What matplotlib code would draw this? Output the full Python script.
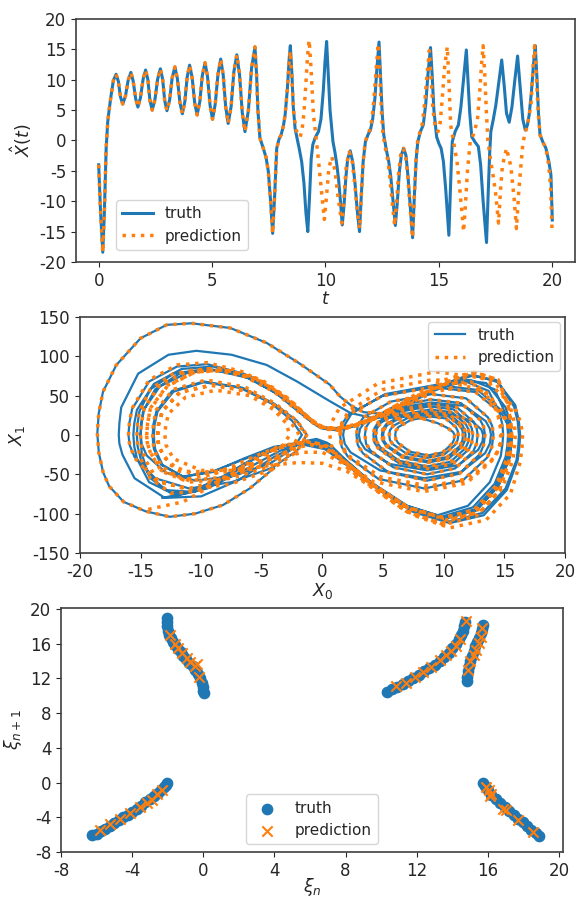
import numpy as np
import matplotlib
matplotlib.use("Agg")
import matplotlib.pyplot as plt

# ---------------- data: time series (t, value) ----------------
shared_series = [
    (0.00, -4.0), (0.08, -11.5), (0.18, -18.4), (0.25, -12.0), (0.33, -1.3), (0.40, 3.1),
    (0.47, 5.3), (0.55, 7.5), (0.65, 9.9), (0.77, 10.9),
    (0.87, 9.7), (0.96, 7.2), (1.06, 6.0), (1.18, 7.3), (1.30, 9.9), (1.42, 11.2),
    (1.52, 9.8), (1.63, 6.9), (1.73, 5.5), (1.84, 7.0), (1.96, 10.1), (2.07, 11.6),
    (2.17, 10.0), (2.26, 6.6), (2.36, 5.0), (2.48, 6.7), (2.60, 10.1), (2.72, 11.8),
    (2.82, 10.1), (2.91, 6.6), (3.01, 4.9), (3.13, 6.7), (3.24, 10.3), (3.36, 12.1),
    (3.47, 10.2), (3.58, 6.3), (3.69, 4.4), (3.80, 6.4), (3.90, 10.4), (4.01, 12.4),
    (4.12, 10.4), (4.23, 6.3), (4.34, 4.2), (4.46, 6.4), (4.57, 10.7), (4.69, 12.8),
    (4.80, 10.5), (4.91, 5.8), (5.02, 3.5), (5.14, 6.0), (5.26, 10.9), (5.38, 13.4),
    (5.49, 10.8), (5.60, 5.5), (5.71, 2.8), (5.84, 5.6), (5.96, 11.3), (6.09, 14.1),
    (6.21, 10.9), (6.33, 4.6), (6.45, 1.45), (6.60, 4.9), (6.74, 11.9), (6.89, 15.4),
    (6.96, 11.0), (7.02, 5.0), (7.11, 0.4), (7.25, -1.2), (7.38, -2.8), (7.48, -5.1),
    (7.58, -10.0), (7.67, -15.3), (7.76, -9.0), (7.85, -1.3), (7.95, 0.2), (8.04, 0.9),
    (8.14, 2.3), (8.22, 4.2),
]
truth_tail = [
    (8.32, 8.5), (8.40, 13.5), (8.45, 15.6), (8.52, 11.0), (8.58, 5.5), (8.66, 2.0),
    (8.75, 0.3), (8.84, -1.3), (8.95, -3.5), (9.05, -7.0), (9.14, -12.0), (9.22, -15.0),
    (9.30, -9.0), (9.37, -3.0), (9.44, -0.7), (9.55, 0.5), (9.69, 1.45), (9.80, 3.5),
    (9.90, 8.0), (9.98, 13.0), (10.05, 16.3), (10.12, 11.0), (10.20, 5.0), (10.33, -0.2),
    (10.42, -2.0), (10.50, -4.0), (10.58, -6.5), (10.66, -10.0), (10.74, -13.9),
    (10.82, -10.5), (10.90, -6.0), (10.98, -3.0), (11.09, -1.7), (11.20, -3.5),
    (11.30, -7.0), (11.40, -11.5), (11.50, -15.0), (11.58, -9.0), (11.66, -3.5),
    (11.76, -0.2), (11.88, 1.0), (11.98, 1.7), (12.08, 3.5), (12.18, 7.0), (12.27, 12.0),
    (12.36, 16.2), (12.43, 10.5), (12.50, 4.5), (12.57, 0.9), (12.68, -1.5), (12.79, -3.5),
    (12.88, -6.0), (12.98, -10.0), (13.08, -14.0), (13.17, -10.0), (13.26, -5.0),
    (13.35, -2.3), (13.45, -1.3), (13.55, -2.5), (13.64, -6.0), (13.74, -11.0),
    (13.84, -16.0), (13.92, -9.0), (14.00, -3.0), (14.07, -0.2), (14.19, 1.5),
    (14.31, 2.55), (14.42, 6.0), (14.52, 11.0), (14.63, 15.3), (14.70, 11.0), (14.78, 5.0),
    (14.90, 0.6), (15.00, -0.5), (15.10, -1.3), (15.20, -3.5), (15.30, -8.0),
    (15.44, -15.6), (15.50, -9.0), (15.55, -3.5), (15.59, -0.2), (15.72, 1.5),
    (15.86, 2.55), (15.97, 5.5), (16.10, 10.5), (16.21, 14.9), (16.28, 10.0),
    (16.36, 4.5), (16.45, 0.6), (16.60, -0.3), (16.74, -1.0), (16.84, -4.0),
    (16.95, -10.0), (17.10, -16.8), (17.18, -8.0), (17.24, -2.0), (17.29, 1.45),
    (17.40, 3.5), (17.51, 5.8), (17.64, 9.5), (17.77, 13.25), (17.88, 9.0), (17.98, 4.5),
    (18.10, 3.0), (18.22, 5.5), (18.35, 10.0), (18.47, 13.9), (18.58, 9.0), (18.70, 3.5),
    (18.81, 1.7), (18.90, 2.5), (18.98, 4.2), (19.08, 8.0), (19.17, 12.5), (19.25, 15.6),
    (19.32, 10.5), (19.39, 4.5), (19.46, 0.9), (19.59, -0.3), (19.72, -1.3),
    (19.85, -3.5), (19.94, -5.7), (20.00, -13.1),
]
pred_tail = [
    (8.32, 8.5), (8.39, 12.5), (8.44, 14.7), (8.52, 10.0), (8.60, 4.5), (8.70, 1.8),
    (8.80, 0.8), (8.88, 0.6), (8.96, 1.5), (9.05, 4.5), (9.13, 9.0), (9.21, 14.0),
    (9.28, 16.5), (9.36, 12.0), (9.47, 4.2), (9.60, 0.0), (9.71, -4.0), (9.84, -9.0),
    (9.95, -13.0), (10.05, -9.0), (10.15, -4.5), (10.28, -2.7), (10.42, -5.0),
    (10.56, -9.5), (10.72, -13.6), (10.82, -9.0), (10.92, -4.0), (11.05, -1.9),
    (11.18, -3.5), (11.30, -7.5), (11.40, -11.5), (11.50, -14.5), (11.58, -9.0),
    (11.66, -3.5), (11.74, -0.5), (11.85, 1.0), (11.95, 1.7), (12.05, 3.5), (12.14, 7.0),
    (12.24, 12.0), (12.33, 15.9), (12.40, 10.5), (12.47, 4.5), (12.54, 0.9),
    (12.65, -1.5), (12.76, -3.5), (12.86, -7.0), (12.95, -10.5), (13.05, -14.0),
    (13.14, -10.0), (13.23, -5.0), (13.33, -2.0), (13.43, -1.3), (13.53, -2.5),
    (13.63, -6.0), (13.73, -11.0), (13.84, -16.0), (13.92, -9.0), (13.99, -3.0),
    (14.06, -0.2), (14.17, 1.5), (14.27, 2.8), (14.37, 6.0), (14.47, 10.5), (14.58, 14.8),
    (14.66, 10.0), (14.74, 5.0), (14.85, 2.0), (14.96, 1.45), (15.06, 3.0), (15.15, 7.0),
    (15.25, 12.0), (15.37, 15.4), (15.45, 9.0), (15.52, 2.5), (15.67, -0.7),
    (15.80, -3.5), (15.92, -8.0), (16.02, -12.0), (16.09, -15.0), (16.18, -10.0),
    (16.26, -5.0), (16.38, -0.2), (16.55, 1.2), (16.70, 3.5), (16.80, 8.0),
    (16.88, 12.5), (16.95, 15.6), (17.02, 11.0), (17.09, 5.0), (17.16, 0.0),
    (17.29, -3.5), (17.40, -6.0), (17.51, -9.0), (17.63, -13.6), (17.72, -8.0),
    (17.80, -4.2), (17.98, -1.3), (18.17, -4.2), (18.32, -9.7), (18.42, -14.5),
    (18.52, -8.5), (18.62, -4.0), (18.71, -0.2), (18.90, 2.5), (19.06, 5.9),
    (19.16, 12.5), (19.22, 15.6), (19.30, 10.5), (19.38, 4.5), (19.46, 0.9),
    (19.59, -0.3), (19.72, -1.3), (19.84, -4.0), (19.93, -8.0), (19.99, -15.0),
]

# ---------------- data: phase portrait (X0, X1) ----------------
phase_transient = [
    (-4.0, -42), (-6.0, -68), (-8.2, -89), (-10.5, -100), (-12.6, -104), (-14.6, -97),
    (-16.4, -85), (-17.6, -65), (-18.1, -47), (-18.45, -22), (-18.57, 2), (-18.45, 28),
    (-18.1, 55), (-17.0, 89), (-15.0, 123), (-12.85, 140), (-10.8, 142), (-7.6, 136),
    (-4.6, 117), (-1.9, 91), (0.6, 64), (1.44, 49), (2.4, 37), (3.4, 29), (4.8, 27),
    (6.5, 26), (8.0, 22), (9.5, 15), (10.3, 9), (10.75, 4), (10.9, 0),
]
phase_right_spiral = [
    (10.85, -5.7), (10.70, -10.9), (9.92, -22.1), (8.70, -26), (7.23, -21.3), (6.25, -10.4), (6.05, -5.7), (6.0, 0),
    (6.05, 5.3), (6.26, 10.1), (7.30, 19.2), (8.86, 23.5), (10.16, 21.1), (10.99, 10.1), (11.15, 5.3), (11.2, 0),
    (11.14, -6.4), (10.97, -12.2), (10.06, -24.7), (8.64, -29), (6.93, -23.8), (5.79, -11.6), (5.56, -6.4), (5.5, 0),
    (5.56, 5.9), (5.81, 11.3), (7.03, 21.6), (8.86, 26.5), (10.38, 23.8), (11.36, 11.3), (11.54, 5.9), (11.6, 0),
    (11.53, -7.3), (11.34, -13.9), (10.28, -28.1), (8.63, -33), (6.65, -27.1), (5.33, -13.2), (5.07, -7.3), (5.0, 0),
    (5.07, 6.6), (5.34, 12.6), (6.70, 24), (8.74, 29.4), (10.44, 26.4), (11.53, 12.6), (11.73, 6.6), (11.8, 0),
    (11.73, -7.7), (11.52, -14.7), (10.42, -29.8), (8.70, -35), (6.63, -28.7), (5.25, -14), (4.97, -7.7), (4.9, 0),
    (4.97, 7.3), (5.26, 13.9), (6.70, 26.4), (8.86, 32.3), (10.66, 29), (11.81, 13.9), (12.03, 7.3), (12.1, 0),
    (12.02, -8.8), (11.79, -16.8), (10.56, -34), (8.64, -40), (6.33, -32.8), (4.79, -16), (4.48, -8.8), (4.4, 0),
    (4.48, 8.1), (4.80, 15.5), (6.40, 29.6), (8.80, 36.3), (10.80, 32.6), (12.08, 15.5), (12.32, 8.1), (12.4, 0),
    (12.32, -9.5), (12.07, -18.1), (10.76, -36.6), (8.71, -43), (6.25, -35.3), (4.61, -17.2), (4.28, -9.5), (4.2, 0),
    (4.29, 8.8), (4.63, 16.8), (6.35, 32), (8.93, 39.2), (11.08, 35.2), (12.46, 16.8), (12.71, 8.8), (12.8, 0),
    (12.71, -11), (12.43, -21), (10.94, -42.5), (8.62, -50), (5.83, -41), (3.97, -20), (3.59, -11), (3.5, 0),
    (3.60, 10.1), (4.0, 19.3), (5.98, 36.8), (8.95, 45.1), (11.42, 40.5), (13.0, 19.3), (13.3, 10.1), (13.4, 0),
    (13.29, -12.8), (12.98, -24.4), (11.28, -49.3), (8.63, -58), (5.45, -47.6), (3.33, -23.2), (2.91, -12.8), (2.8, 0),
    (2.91, 11.7), (3.37, 22.3), (5.63, 42.4), (9.02, 51.9), (11.84, 46.6), (13.65, 22.3), (13.99, 11.7), (14.1, 0),
    (13.97, -15), (13.59, -28.6), (11.57, -57.8), (8.41, -68), (4.61, -55.8), (2.08, -27.2), (1.58, -15), (1.45, 0),
    (1.59, 13.6), (2.15, 26), (4.94, 49.6), (9.12, 60.8), (12.61, 54.6), (14.84, 26), (15.26, 13.6), (15.4, 0),
    (15.36, -14), (15.2, -30), (14.3, -65), (12.5, -95), (10.0, -105), (7.0, -92), (4.0, -62),
    (1.8, -33), (0.4, -15), (-1.2, -8), (-2.8, -12), (-5.1, -25), (-8.0, -55),
    (-10.5, -72), (-12.5, -74), (-14.2, -55), (-15.0, -30), (-15.25, -14), (-15.3, 0),
    (-15.25, 14), (-15.1, 30), (-14.2, 58), (-12.3, 78), (-9.5, 84), (-6.5, 75), (-4.0, 55),
    (-2.0, 30), (-0.5, 12), (0.9, 8), (2.5, 12), (4.2, 20), (6.5, 35),
]
truth_phase_tail = [
    (9.0, 55), (11.5, 70), (13.5, 66), (15.1, 35), (15.5, 16), (15.6, 0),
    (15.55, -14), (15.4, -30), (14.5, -65), (12.7, -96), (10.0, -107), (7.0, -93), (4.0, -63),
    (1.6, -33), (0.2, -15), (-1.3, -9), (-3.0, -13), (-5.5, -28), (-8.5, -57),
    (-11.0, -72), (-13.0, -70), (-14.4, -48), (-14.9, -24), (-14.98, -11), (-15.0, 0),
    (-14.95, 14), (-14.8, 30), (-13.8, 58), (-11.8, 78), (-9.0, 83), (-6.0, 72), (-3.5, 50),
    (-1.5, 25), (-0.3, 10), (1.0, 7), (2.5, 11), (4.5, 22), (7.0, 40), (9.5, 62),
    (12.0, 76), (14.3, 70), (15.9, 38), (16.2, 17), (16.3, 0),
    (16.24, -15), (16.1, -32), (15.2, -70), (13.3, -102), (10.5, -112), (7.5, -98), (4.5, -68),
    (2.0, -38), (0.2, -18), (-2.0, -11), (-4.0, -15), (-6.5, -30), (-9.0, -47),
    (-11.5, -53), (-13.2, -38), (-13.8, -18), (-13.88, -8), (-13.9, 0),
    (-13.85, 13), (-13.6, 30), (-12.3, 55), (-9.8, 67), (-6.8, 60), (-4.2, 40), (-2.5, 18), (-1.7, 0),
    (-2.4, -17), (-4.3, -36), (-7.3, -52), (-10.5, -58), (-12.9, -48), (-14.5, -26),
    (-14.9, -12), (-15.0, 0),
    (-14.93, 15), (-14.7, 33), (-13.4, 62), (-11.0, 80), (-8.5, 83), (-5.5, 70), (-3.0, 45),
    (-1.2, 20), (0.0, 8), (1.2, 6), (2.8, 12), (5.0, 25), (7.5, 45), (10.0, 64),
    (12.5, 76), (14.5, 67), (15.8, 36), (16.1, 17), (16.2, 0),
    (16.14, -15), (16.0, -32), (15.1, -68), (13.2, -99), (10.5, -110), (7.5, -96), (4.5, -66),
    (2.0, -36), (0.3, -17), (-1.5, -10), (-3.5, -14), (-6.0, -28), (-9.0, -46),
    (-11.5, -53), (-13.3, -38), (-13.9, -18), (-13.98, -8), (-14.0, 0),
    (-13.95, 13), (-13.7, 30), (-12.4, 56), (-9.8, 68), (-6.6, 60), (-4.0, 40), (-2.1, 18), (-1.3, 0),
    (-2.1, -20), (-4.2, -42), (-7.5, -60), (-11.0, -68), (-13.8, -55), (-15.5, -28),
    (-15.9, -13), (-16.0, 0),
    (-15.93, 15), (-15.7, 33), (-14.3, 68), (-12.0, 87), (-9.5, 90), (-6.5, 78), (-3.8, 55),
    (-1.5, 25), (-0.2, 10), (1.2, 7), (2.6, 12), (4.8, 25), (7.2, 45), (9.8, 62),
    (12.2, 70), (14.2, 58), (15.0, 30), (15.24, 14), (15.3, 0),
    (15.25, -13), (15.1, -28), (14.2, -62), (12.4, -92), (9.8, -104), (7.0, -90), (4.0, -60),
    (1.8, -30), (0.6, -12), (-0.5, -7), (-1.3, -9), (-3.5, -20), (-6.5, -45),
    (-9.5, -68), (-12.0, -77), (-14.3, -60), (-15.3, -30), (-15.53, -14), (-15.6, 0),
    (-15.53, 14), (-15.3, 32), (-13.9, 65), (-11.6, 84), (-9.0, 87), (-6.0, 75), (-3.5, 52),
    (-1.3, 25), (-0.2, 10), (1.2, 7), (2.6, 12), (4.8, 24), (7.2, 42), (9.6, 60),
    (11.8, 68), (13.7, 56), (14.6, 28), (14.84, 13), (14.9, 0),
    (14.84, -12), (14.7, -27), (13.8, -60), (12.0, -90), (9.5, -102), (6.5, -88), (3.8, -58),
    (1.6, -28), (0.4, -10), (-0.5, -5), (-1.5, -8), (-4.0, -28), (-7.0, -58),
    (-10.0, -78), (-13.0, -80), (-15.5, -55), (-16.5, -25), (-16.75, -11), (-16.8, 0),
    (-16.75, 15), (-16.6, 35), (-15.2, 78), (-12.7, 102), (-10.4, 107), (-7.5, 102), (-4.6, 89),
    (-2.1, 68), (0.6, 43), (2.3, 28), (4.0, 22), (6.0, 22), (8.5, 26), (10.5, 27),
    (12.3, 18), (13.1, 7), (13.25, 0),
    (13.2, -8), (12.84, -18.9), (11.20, -38.3), (8.64, -45), (5.56, -36.9), (3.51, -18), (3.1, -8), (3.0, 0),
    (3.1, 8), (3.55, 17.6), (5.73, 33.6), (9.0, 41.2), (11.72, 37), (13.46, 17.6), (13.8, 8), (13.9, 0),
    (13.8, -11), (13.41, -23.1), (11.46, -46.8), (8.41, -55), (4.75, -45.1), (2.31, -22), (1.83, -11), (1.7, 0),
    (1.84, 13), (2.40, 27.3), (5.18, 52), (9.35, 63.7), (12.82, 57.2), (15.04, 27.3), (15.46, 13), (15.6, 0),
    (15.55, -14), (15.4, -30), (14.5, -65), (12.7, -95), (10.0, -106), (7.0, -92), (4.0, -62),
    (1.5, -30), (0.2, -12), (-1.3, -9), (-3.5, -16), (-5.7, -30), (-8.5, -55),
    (-11.0, -73), (-13.2, -80),
]
pred_phase_tail = [
    (9.0, 53), (11.5, 64), (13.3, 55), (14.4, 30), (14.64, 13), (14.7, 0),
    (14.6, -14), (14.14, -30.2), (11.88, -61.2), (8.36, -72), (4.13, -59), (1.31, -28.8), (0.75, -14), (0.6, 0),
    (0.75, 16), (1.40, 34.4), (4.58, 65.6), (9.35, 80.4), (13.32, 72.2), (15.86, 34.4), (16.34, 16), (16.5, 0),
    (16.45, -16), (16.3, -35), (15.5, -75), (13.5, -108), (10.5, -118), (7.5, -102), (4.5, -70),
    (2.0, -46), (0.0, -36), (-2.0, -35), (-4.0, -38), (-7.0, -45), (-10.0, -45),
    (-12.3, -30), (-12.9, -13), (-13.0, 0),
    (-12.93, 12), (-12.7, 27), (-11.3, 48), (-8.8, 57), (-6.0, 50), (-4.0, 32), (-3.0, 15), (-2.7, 0),
    (-3.4, -16), (-5.3, -35), (-8.0, -47), (-10.6, -50), (-12.6, -38), (-13.4, -18),
    (-13.57, -8), (-13.6, 0),
    (-13.52, 13), (-13.2, 30), (-11.8, 54), (-9.2, 63), (-6.2, 56), (-3.9, 36), (-2.6, 16), (-1.9, 0),
    (-2.6, -18), (-4.7, -38), (-7.8, -53), (-11.0, -58), (-13.3, -45), (-14.2, -22),
    (-14.45, -10), (-14.5, 0),
    (-14.43, 14), (-14.2, 33), (-12.8, 62), (-10.5, 80), (-8.0, 82), (-5.0, 68), (-2.7, 44),
    (-1.0, 20), (0.2, 8), (1.3, 6), (2.9, 12), (5.0, 25), (7.5, 45), (10.0, 64),
    (12.4, 76), (14.3, 66), (15.5, 35), (15.82, 16), (15.9, 0),
    (15.84, -15), (15.7, -32), (14.8, -68), (13.0, -98), (10.3, -108), (7.3, -94), (4.3, -64),
    (1.9, -35), (0.3, -17), (-1.5, -10), (-3.5, -14), (-6.0, -30), (-9.0, -50),
    (-11.5, -57), (-13.3, -40), (-13.9, -18), (-13.98, -8), (-14.0, 0),
    (-13.95, 14), (-13.7, 32), (-12.3, 58), (-9.6, 70), (-6.4, 61), (-3.9, 40), (-2.1, 18), (-1.3, 0),
    (-2.1, -21), (-4.2, -44), (-7.5, -62), (-11.0, -70), (-13.8, -57), (-15.5, -29),
    (-15.9, -13), (-16.0, 0),
    (-15.93, 15), (-15.7, 34), (-14.3, 70), (-12.0, 89), (-9.5, 92), (-6.5, 80), (-3.8, 56),
    (-1.5, 26), (-0.2, 10), (1.3, 8), (2.8, 14), (5.0, 28), (7.5, 48), (10.0, 64),
    (12.2, 68), (13.9, 50), (14.5, 25), (14.74, 12), (14.8, 0),
    (14.67, -13), (14.27, -27.3), (12.13, -55.3), (8.79, -65), (4.79, -53.3), (2.12, -26), (1.58, -13), (1.45, 0),
    (1.59, 15), (2.15, 30.2), (4.94, 57.6), (9.12, 70.6), (12.61, 63.4), (14.84, 30.2), (15.26, 15), (15.4, 0),
    (15.35, -15), (15.2, -32), (14.4, -68), (12.5, -100), (9.8, -112), (6.8, -96), (3.8, -64),
    (1.5, -32), (0.0, -15), (-1.0, -12), (-2.5, -18), (-5.0, -35), (-8.0, -55),
    (-11.0, -68), (-13.5, -60), (-14.6, -32), (-14.93, -15), (-15.0, 0),
    (-14.93, 15), (-14.7, 34), (-13.4, 64), (-11.0, 82), (-8.5, 85), (-5.5, 72), (-3.0, 48),
    (-1.2, 22), (0.0, 8), (1.2, 6), (2.8, 13), (5.0, 28), (7.5, 50), (10.0, 70),
    (12.5, 80), (14.5, 70), (15.3, 38), (15.53, 17), (15.6, 0),
    (15.55, -15), (15.4, -32), (14.6, -70), (12.7, -103), (10.0, -114), (7.0, -98), (4.0, -65),
    (1.5, -35), (0.0, -22), (-1.5, -22), (-3.5, -28), (-6.0, -38), (-9.0, -47),
    (-11.8, -46), (-13.1, -27), (-13.52, -12), (-13.6, 0),
    (-13.52, 14), (-13.2, 31), (-11.7, 55), (-9.0, 64), (-6.0, 55), (-3.6, 35), (-2.1, 15), (-1.3, 0),
    (-2.1, -19), (-4.3, -40), (-7.5, -55), (-11.0, -60), (-13.3, -46), (-14.2, -22),
    (-14.45, -10), (-14.5, 0),
    (-14.43, 14), (-14.2, 34), (-12.8, 63), (-10.5, 80), (-8.0, 83), (-5.0, 70), (-2.7, 45),
    (-1.0, 20), (0.2, 8), (1.5, 7), (3.0, 13), (5.2, 27), (7.6, 47), (10.0, 66),
    (12.5, 80), (14.5, 70), (15.3, 38), (15.53, 17), (15.6, 0),
    (15.55, -14), (15.4, -30), (14.5, -65), (12.7, -95), (10.0, -106), (7.0, -92), (4.0, -62),
    (1.5, -30), (0.2, -12), (-1.3, -9), (-4.0, -18), (-8.0, -55), (-11.5, -85),
    (-14.5, -95),
]

# ---------------- data: return map (xi_n, xi_n+1) ----------------
map_truth = [
    # upper-left branch
    (-2.06, 19.0), (-2.05, 18.5), (-2.02, 18.0), (-1.98, 17.5), (-1.92, 17.0),
    (-1.83, 16.6), (-1.72, 16.2), (-1.58, 15.8), (-1.43, 15.4), (-1.28, 15.0),
    (-1.12, 14.6), (-0.95, 14.2), (-0.78, 13.8), (-0.60, 13.4), (-0.44, 13.0),
    (-0.30, 12.5), (-0.18, 12.0), (-0.10, 11.5), (-0.04, 11.0), (0.00, 10.5), (0.02, 10.3),
    # lower-left branch
    (-6.25, -6.1), (-6.0, -5.9), (-5.75, -5.6), (-5.5, -5.3), (-5.25, -5.0), (-5.0, -4.7),
    (-4.75, -4.35), (-4.5, -4.0), (-4.25, -3.7), (-4.0, -3.35), (-3.75, -3.0),
    (-3.5, -2.65), (-3.25, -2.3), (-3.0, -1.95), (-2.75, -1.6), (-2.55, -1.25),
    (-2.38, -0.9), (-2.22, -0.55), (-2.1, -0.25), (-2.02, 0.0),
    # middle-right branch
    (10.3, 10.45), (10.6, 10.75), (10.9, 11.05), (11.2, 11.35), (11.5, 11.7),
    (11.8, 12.05), (12.1, 12.4), (12.4, 12.8), (12.7, 13.15), (13.0, 13.55),
    (13.3, 14.0), (13.55, 14.45), (13.8, 14.95), (14.0, 15.45), (14.2, 16.0),
    (14.35, 16.5), (14.5, 17.0), (14.6, 17.5), (14.68, 18.0), (14.73, 18.5),
    # steep right branch
    (14.8, 11.7), (14.82, 12.2), (14.86, 12.8), (14.92, 13.4), (15.0, 14.0),
    (15.1, 14.6), (15.2, 15.1), (15.3, 15.7), (15.4, 16.2), (15.5, 16.7),
    (15.6, 17.2), (15.67, 17.7), (15.73, 18.1),
    # lower-right branch
    (15.75, 0.0), (15.85, -0.4), (16.0, -0.9), (16.2, -1.4), (16.45, -1.9),
    (16.7, -2.4), (16.95, -2.85), (17.2, -3.3), (17.45, -3.75), (17.7, -4.2),
    (17.95, -4.6), (18.2, -5.05), (18.45, -5.45), (18.7, -5.85), (18.9, -6.2),
]
map_pred = [
    (-1.87, 17.0), (-1.59, 15.9), (-1.40, 15.5), (-1.22, 14.9), (-0.94, 14.3),
    (-0.75, 13.9), (-0.47, 13.4), (-0.35, 13.6), (-0.22, 12.1),
    (-5.8, -5.5), (-5.24, -4.8), (-4.68, -4.2), (-4.12, -3.5), (-3.56, -2.8),
    (-3.18, -2.4), (-2.9, -2.0), (-2.62, -1.35), (-2.34, -0.9),
    (10.85, 11.06), (11.41, 11.5), (11.88, 12.1), (12.35, 12.7), (12.82, 13.3),
    (13.29, 14.07), (13.66, 14.7), (13.94, 15.1), (14.22, 15.7), (14.41, 16.5),
    (14.75, 18.57),
    (14.88, 13.0), (15.01, 13.95), (15.2, 14.7), (15.35, 15.3), (15.5, 16.07),
    (15.63, 16.8), (15.69, 17.8),
    (15.91, -0.5), (16.06, -0.89), (16.2, -1.27), (16.1, -1.6), (16.85, -3.0),
    (17.04, -3.2), (17.69, -4.35), (18.54, -5.7),
]

# ---------------- styling ----------------
plt.rcParams.update({
    "font.family": "DejaVu Sans",
    "axes.unicode_minus": False,
    "font.size": 12,
    "text.color": "0.15",
    "axes.labelcolor": "0.15",
    "xtick.color": "0.15",
    "ytick.color": "0.15",
    "axes.edgecolor": "0.25",
    "axes.linewidth": 1.2,
    "xtick.labelsize": 12,
    "ytick.labelsize": 12,
    "axes.labelsize": 12.5,
    "legend.fontsize": 11,
})
BLUE = "#1f77b4"
ORANGE = "#ff7f0e"

fig = plt.figure(figsize=(5.77, 8.99), dpi=100)

# ---- top: time series ----
ax1 = fig.add_axes([0.1317, 0.7086, 0.8648, 0.2703])
tt, xt = np.array(shared_series + truth_tail).T
tp, xp = np.array(shared_series + pred_tail).T
ax1.plot(tt, xt, color=BLUE, lw=2.2, label="truth")
ax1.plot(tp, xp, color=ORANGE, lw=2.5, ls=":", label="prediction")
ax1.set_xlim(-1, 21)
ax1.set_ylim(-20, 20)
ax1.set_xticks([0, 5, 10, 15, 20])
ax1.set_yticks(np.arange(-20, 21, 5))
ax1.set_xlabel(r"$t$", labelpad=0)
ax1.set_ylabel(r"$\hat{X}(t)$")
ax1.legend(loc="lower left", bbox_to_anchor=(0.08, 0.05), borderaxespad=0)

# ---- middle: phase portrait ----
ax2 = fig.add_axes([0.1386, 0.3849, 0.8406, 0.2625])
px_t, py_t = np.array(phase_transient + phase_right_spiral + truth_phase_tail).T
px_p, py_p = np.array(phase_transient + phase_right_spiral + pred_phase_tail).T
ax2.plot(px_t, py_t, color=BLUE, lw=1.6, label="truth")
ax2.plot(px_p, py_p, color=ORANGE, lw=2.5, ls=":", label="prediction")
ax2.set_xlim(-20, 20)
ax2.set_ylim(-150, 150)
ax2.set_xticks(np.arange(-20, 21, 5))
ax2.set_yticks(np.arange(-150, 151, 50))
ax2.set_xlabel(r"$X_0$", labelpad=0)
ax2.set_ylabel(r"$X_1$")
ax2.legend(loc="upper right", borderaxespad=0.3)

# ---- bottom: return map ----
ax3 = fig.add_axes([0.1057, 0.0523, 0.8700, 0.2714])
mx_t, my_t = np.array(map_truth).T
mx_p, my_p = np.array(map_pred).T
ax3.scatter(mx_t, my_t, s=55, color=BLUE, label="truth", zorder=2)
ax3.scatter(mx_p, my_p, s=55, marker="x", color=ORANGE, linewidths=1.5,
            label="prediction", zorder=3)
ax3.set_xlim(-8, 20.22)
ax3.set_ylim(-8, 20.1)
ax3.set_xticks(np.arange(-8, 21, 4))
ax3.set_yticks(np.arange(-8, 21, 4))
ax3.set_xlabel(r"$\xi_n$", labelpad=-3)
ax3.set_ylabel(r"$\xi_{n+1}$")
ax3.legend(loc="lower center")

fig.savefig("out.png", dpi=100)
